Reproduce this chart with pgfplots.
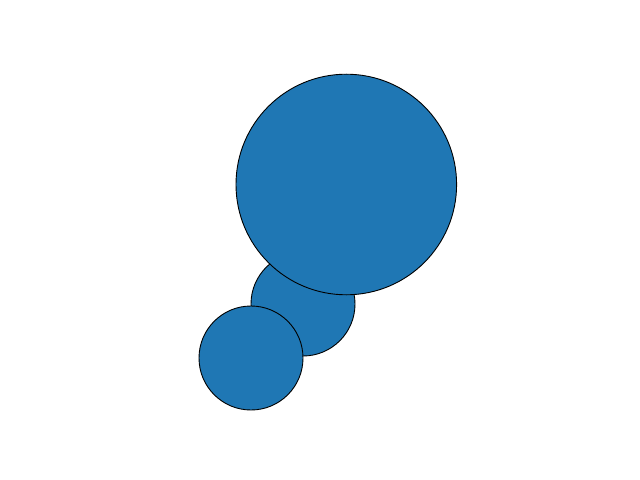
\documentclass[border=0pt]{standalone}
\usepackage{pgfplots}
\pgfplotsset{compat=1.18}
\definecolor{mplblue}{HTML}{1F77B4}

\begin{document}
\begin{tikzpicture}
 \begin{axis}[
  width=640bp,
  height=480bp,
  scale only axis,
  hide axis,
  clip=false,
  xmin=0, xmax=640,
  ymin=0, ymax=480,
  y dir=reverse]
  % keeps the page at the full canvas size
  \addplot[draw=none, mark=none] coordinates {(0,0) (640,480)};
  % middle circle, drawn first
  \addplot[only marks, mark=*, mark size=52bp,
   mark options={fill=mplblue, draw=black, line width=0.9bp}] coordinates {
   (303,304)
  };
  % large circle
  \addplot[only marks, mark=*, mark size=110.3bp,
   mark options={fill=mplblue, draw=black, line width=0.9bp}] coordinates {
   (346.3,184.5)
  };
  % small circle
  \addplot[only marks, mark=*, mark size=52bp,
   mark options={fill=mplblue, draw=black, line width=0.9bp}] coordinates {
   (251,358)
  };
 \end{axis}
\end{tikzpicture}
\end{document}
